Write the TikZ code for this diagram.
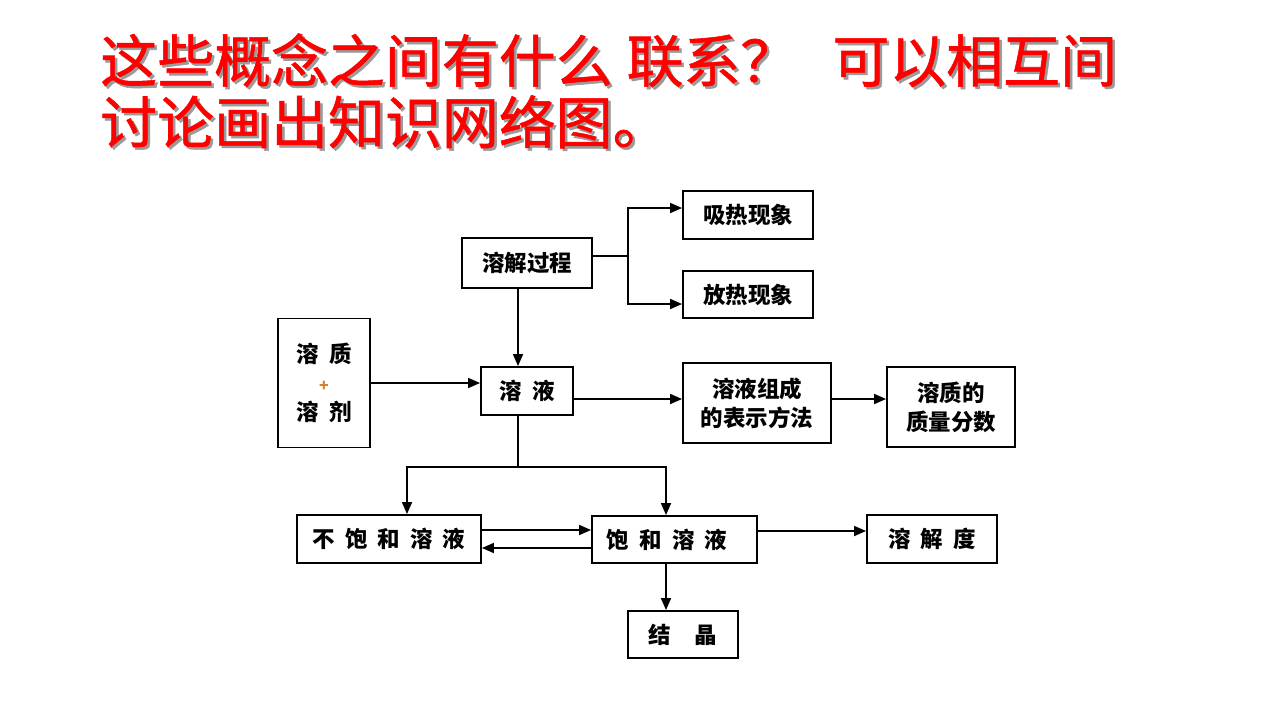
\documentclass[tikz,border=0pt]{standalone}
\usepackage{fontspec}
\usetikzlibrary{arrows.meta,positioning}
\newfontfamily\cjk{Noto Sans CJK SC}
\newfontfamily\cjkbiaoti{Noto Sans CJK SC}[FakeBold=1]
\definecolor{titlered}{RGB}{255,0,0}
\definecolor{shadowgray}{RGB}{155,155,155}
\definecolor{plusorange}{RGB}{215,125,40}
\newcommand{\kong}{\hspace{0.45em}}
\newcommand{\yinying}[1]{\makebox[0pt][l]{\hspace{0.05cm}\raisebox{-0.05cm}{\color{shadowgray}#1}}#1}

\begin{document}
\begin{tikzpicture}[
    x=0.02cm, y=-0.02cm,
    box/.style={draw, line width=1.1pt, inner sep=0pt, align=center, font=\cjk\bfseries\fontsize{12.8pt}{16.4pt}\selectfont},
    arr/.style={-{Triangle[length=2.4mm,width=2mm]}, line width=1pt},
    lian/.style={line width=1pt},
    biaoti/.style={anchor=west, inner sep=0pt, text=titlered, font=\cjkbiaoti\fontsize{32.4pt}{35pt}\selectfont}
  ]
    \fill[white] (0,0) rectangle (1280,720);
    \useasboundingbox (0,0) rectangle (1280,720);
    \node[biaoti] (wenti1) at (100,61.5) {\yinying{这些概念之间有什么\hspace{0.28cm}联系？\hspace{0.7cm}可以相互间}};
    \node[biaoti] (wenti2) at (100,123) {\yinying{讨论画出知识网络图。}};
    \node[box, minimum width=2.6cm, minimum height=1cm] (guocheng) at (527,263) {溶解过程};
    \node[box, minimum width=2.6cm, minimum height=0.96cm] (xire) at (748,215) {吸热现象};
    \node[box, minimum width=2.6cm, minimum height=0.94cm] (fangre) at (748,294.5) {放热现象};
    \node[box, minimum width=1.84cm, minimum height=2.58cm] (rongzhi) at (324,383) {溶\kong 质\\{\color{plusorange}\small +}\\溶\kong 剂};
    \node[box, minimum width=1.84cm, minimum height=0.96cm] (rongye) at (527,391) {溶\kong 液};
    \node[box, minimum width=2.96cm, minimum height=1.6cm] (zucheng) at (757,403) {溶液组成\\的表示方法};
    \node[box, minimum width=2.56cm, minimum height=1.6cm] (fenshu) at (951,407) {溶质的\\质量分数};
    \node[box, minimum width=3.68cm, minimum height=0.96cm] (buhe) at (389,539) {不\kong 饱\kong 和\kong 溶\kong 液};
    \node[box, minimum width=3.3cm, minimum height=0.94cm] (baohe) at (674.5,539.5) {饱\kong 和\kong 溶\kong 液\hspace*{0.3cm}};
    \node[box, minimum width=2.6cm, minimum height=0.96cm] (rongjiedu) at (932,539) {溶\kong 解\kong 度};
    \node[box, minimum width=2.2cm, minimum height=0.94cm] (jiejing) at (683,634.5) {结\hspace{1.05em}晶};
    \coordinate (fencha) at (628,256);
    \coordinate (yex) at (518,0);
    \coordinate (fenlu) at (518,467);
    \coordinate (bux) at (407,0);
    \coordinate (baox) at (666,0);
    \coordinate (zuhang) at (0,399);
    \coordinate (shang) at (0,530);
    \coordinate (xia) at (0,548);
    \coordinate (duhang) at (0,531);
    \draw[lian] (guocheng.east |- fencha) -- (fencha);
    \draw[arr] (fencha) |- ([yshift=0.14cm]xire.west);
    \draw[arr] (fencha) |- ([yshift=-0.19cm]fangre.west);
    \draw[arr] (yex |- guocheng.south) -- (yex |- rongye.north);
    \draw[arr] (rongzhi.east) -- (rongzhi.east -| rongye.west);
    \draw[arr] (rongye.east |- zuhang) -- (zucheng.west |- zuhang);
    \draw[arr] (zucheng.east |- zuhang) -- (fenshu.west |- zuhang);
    \draw[lian] (yex |- rongye.south) -- (fenlu);
    \draw[arr] (fenlu) -| (bux |- buhe.north);
    \draw[arr] (fenlu) -| (baox |- baohe.north);
    \draw[arr] (buhe.east |- shang) -- (baohe.west |- shang);
    \draw[arr] (baohe.west |- xia) -- (buhe.east |- xia);
    \draw[arr] (baohe.east |- duhang) -- (rongjiedu.west |- duhang);
    \draw[arr] (baox |- baohe.south) -- (baox |- jiejing.north);
  \end{tikzpicture}
\end{document}
